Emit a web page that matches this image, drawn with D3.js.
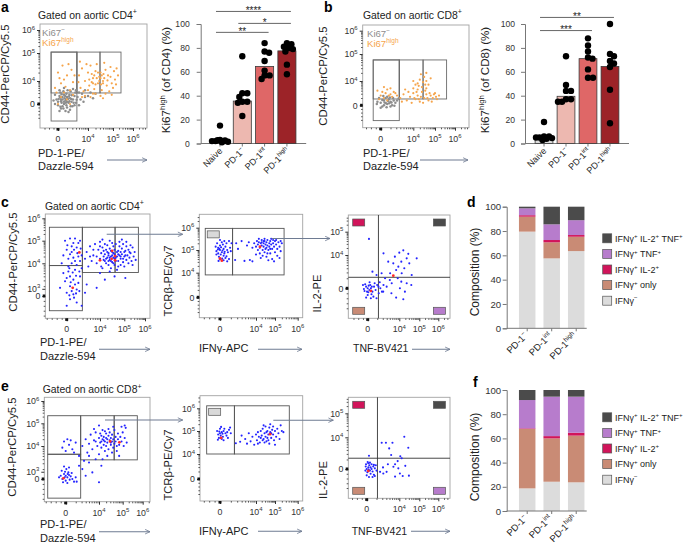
<!DOCTYPE html>
<html><head><meta charset="utf-8">
<script src="https://cdn.jsdelivr.net/npm/d3@7/dist/d3.min.js"></script>
<style>
html,body{margin:0;padding:0;background:#fff;}
svg text{font-family:"Liberation Sans",Arial,sans-serif;}
</style></head>
<body>
<svg id="fig" width="684" height="548" xmlns="http://www.w3.org/2000/svg"></svg>
<script>
// ================= DATA =================
const ki67Groups = ["Naive", "PD-1^−", "PD-1^int", "PD-1^high"];
const cd4Ki67Mean = [2.5, 35.5, 64.5, 77.5];
const cd4Ki67Dots = [[15, 3, 2.5, 2, 2, 1.5, 1, 2.8], [73, 42, 42, 39, 35, 35, 34, 23], [84, 77, 76, 69, 61, 57, 57, 54], [84, 83, 81, 80, 79, 77, 66, 58]];
const cd8Ki67Mean = [4, 39.5, 71, 64.5];
const cd8Ki67Dots = [[18, 6, 6, 5, 5, 4.5, 4, 3], [73, 49, 44, 44, 37, 37, 35, 35], [88, 82, 77, 72, 71, 62, 55, 55], [100, 75, 73, 69, 67, 64, 45, 17]];
const cd4Brackets = [{a: 0, b: 3, level: 110.5, text: "****"}, {a: 1, b: 3, level: 100.5, text: "*"}, {a: 0, b: 2, level: 93, text: "**"}];
const cd8Brackets = [{a: 0, b: 3, level: 105.5, text: "**"}, {a: 0, b: 2, level: 94.5, text: "***"}];
const pctTicks = [0, 20, 40, 60, 80, 100];

const compGroups = ["PD-1^−", "PD-1^int", "PD-1^high"];
const compKeys = ["IFNγ^−", "IFNγ^+ only", "IFNγ^+ IL-2^+", "IFNγ^+ TNF^+", "IFNγ^+ IL-2^+ TNF^+"];
const cd4IFNgNeg = [79.5, 57.5, 63.5];
const cd4IFNgOnly = [12.3, 13.2, 11.8];
const cd4IL2 = [1.2, 1.9, 1.4];
const cd4TNF = [5.7, 12.9, 12.2];
const cd4Triple = [1.3, 14.5, 11.1];
const cd8IFNgNeg = [18.7, 24.2, 23.7];
const cd8IFNgOnly = [49.1, 35.8, 38.6];
const cd8IL2 = [0.5, 1.9, 2.4];
const cd8TNF = [23.4, 32.6, 29.8];
const cd8Triple = [8.3, 5.5, 5.5];

// flow axes: display units, 0 = "0", 1 = 10^4, 2 = 10^5, 3 = 10^6
const flowTickVals = [0, 1, 2, 3];
const flowTickLabels = ["0", "10^4", "10^5", "10^6"];
const flowTickVals3 = [0, 0.22, 1, 2, 3];
const flowTickLabels3 = ["0", "10^3", "10^4", "10^5", "10^6"];
const cytoTickVals = [0, 1, 2];
const cytoTickLabels = ["0", "10^4", "10^5"];

const aKi67Neg = [[0.0,0.1],[0.1,0.2],[0.2,0.0],[0.3,0.3],[0.15,-0.1],[0.05,0.35],[0.25,0.15],[0.35,0.05],[0.4,0.25],[-0.05,0.2],[0.1,-0.2],[0.2,0.4],[0.3,-0.15],[0.45,0.1],[0.0,-0.05],[0.12,0.05],[0.22,0.25],[0.28,0.45],[0.38,0.4],[0.5,0.2],[0.55,0.35],[0.6,0.05],[0.48,-0.1],[0.08,0.5],[-0.1,0.0],[-0.1,0.4],[0.18,0.55],[0.32,0.6],[0.42,0.55],[0.65,0.3],[0.7,0.5],[0.25,-0.3],[0.05,-0.3],[0.4,-0.25],[0.15,0.3],[0.26,0.05],[0.33,0.22],[0.02,0.22],[0.12,0.42],[0.46,0.38],[0.58,0.5],[0.75,0.2],[0.8,0.45],[0.9,0.6],[1.0,0.35],[0.2,0.7],[0.5,0.65],[-0.15,0.15],[0.36,0.33],[0.2,0.1],[0.1,0.12],[0.3,0.1],[0.24,0.35],[0.44,0.22],[0.6,0.6],[0.85,0.1],[1.1,0.5],[1.3,0.45],[0.05,0.6],[0.35,-0.35],[0.9,0.3],[1.2,0.25],[0.7,-0.05],[0.15,0.2],[0.27,0.2],[0.38,0.12],[0.07,0.28],[0.52,0.05],[0.18,-0.2],[0.42,-0.1],[0.62,0.18],[0.28,-0.05],[0.08,-0.12],[0.55,-0.05]];
const aKi67High = [[0.0,1.3],[0.15,1.55],[0.3,1.2],[0.1,0.9],[0.45,1.4],[0.25,0.75],[-0.1,0.7],[0.5,0.95],[0.35,1.6],[0.2,1.05],[0.05,1.1],[0.55,1.2],[0.4,0.6],[-0.05,0.5],[0.1,0.3],[0.3,0.2],[0.5,0.4],[0.2,0.5],[0.0,0.0],[0.4,0.0],[0.7,1.2],[0.8,1.45],[0.9,1.0],[1.0,1.3],[1.05,0.8],[1.1,1.55],[1.2,1.1],[1.25,0.65],[1.3,1.35],[1.4,0.9],[0.75,0.7],[0.85,0.55],[0.95,1.6],[1.15,1.25],[1.35,1.6],[1.45,1.15],[0.68,0.95],[1.0,0.6],[1.2,0.45],[0.9,0.35],[1.1,0.3],[1.5,1.3],[1.6,1.0],[1.7,1.4],[1.75,0.8],[1.8,1.2],[1.9,1.5],[1.95,0.9],[2.05,1.35],[2.1,1.05],[2.25,1.2],[1.55,0.6],[1.65,1.65],[1.85,0.55],[2.0,0.7],[1.62,1.25],[1.78,1.02],[1.52,0.85],[1.9,1.15],[2.15,0.85],[1.7,0.45],[1.05,1.05],[1.15,0.95],[1.25,1.2],[1.3,0.85],[1.45,1.0],[1.5,1.1],[1.55,1.2],[1.6,0.9],[1.35,1.1],[1.2,0.9],[1.4,1.3],[1.65,1.1],[1.3,0.45],[1.5,0.35],[1.6,0.25],[0.8,0.3],[1.95,0.4],[0.73,1.69],[2.18,1.45]];
const bKi67Neg = [[0.0,0.1],[0.1,0.2],[0.2,0.05],[0.3,0.15],[0.05,-0.05],[0.15,0.3],[0.25,0.25],[0.35,0.0],[-0.1,0.15],[0.4,0.2],[0.1,0.0],[0.2,0.35],[0.3,-0.05],[0.45,0.1],[-0.05,0.3],[0.12,0.12],[0.22,0.18],[0.28,0.32],[0.05,0.22],[0.38,0.3],[0.5,0.2],[0.18,-0.08],[0.0,-0.1],[0.26,0.08],[0.08,0.38],[0.42,-0.02],[-0.12,0.05],[0.33,0.12],[0.16,0.08],[0.55,0.28]];
const bKi67High = [[0.0,0.4],[0.15,0.5],[0.3,0.45],[-0.1,0.6],[0.2,0.65],[0.4,0.55],[0.1,0.3],[0.25,0.4],[0.05,0.55],[0.35,0.35],[0.45,0.5],[0.5,0.4],[-0.05,0.25],[0.2,0.2],[0.3,0.7],[0.1,0.75],[0.6,0.3],[0.7,0.45],[0.8,0.2],[0.9,0.35],[1.0,0.5],[1.1,0.25],[1.2,0.4],[1.3,0.15],[1.4,0.55],[1.5,0.3],[1.6,0.45],[1.7,0.2],[1.8,0.4],[1.9,0.3],[2.0,0.5],[2.1,0.25],[0.65,0.15],[0.85,0.55],[0.95,0.1],[1.05,0.3],[1.15,0.55],[1.25,0.25],[1.35,0.35],[1.45,0.1],[1.55,0.6],[1.65,0.3],[1.75,0.5],[1.85,0.15],[1.95,0.45],[2.05,0.35],[2.2,0.4],[1.2,0.65],[1.4,0.75],[1.6,0.7],[0.75,0.65],[1.0,0.7],[1.2,0.9],[1.3,1.05],[1.35,1.25],[1.45,0.95],[1.5,1.15],[1.55,0.85],[1.6,1.0],[1.25,0.8],[1.6,1.3],[1.7,0.85],[1.1,0.85],[1.0,1.0],[1.8,1.1]];

const cPD1Blue = [[0.0,0.1],[0.1,0.3],[0.2,0.5],[-0.1,0.7],[0.3,0.2],[0.05,0.9],[0.15,1.0],[0.25,0.8],[0.35,0.4],[-0.05,0.45],[0.2,0.05],[0.1,-0.1],[0.3,-0.2],[0.0,-0.3],[0.4,0.6],[0.1,0.6],[0.25,1.1],[-0.15,1.0],[0.05,1.2],[0.35,1.3],[0.15,1.5],[0.3,1.7],[0.0,1.6],[0.2,1.9],[0.4,2.0],[0.1,2.1],[-0.1,1.35],[0.25,0.35],[0.15,0.15],[0.05,0.75],[0.3,0.95],[0.2,1.25],[0.4,1.1],[-0.2,0.25],[0.45,0.85],[0.12,0.42],[0.28,0.62],[0.08,0.02],[0.22,-0.05],[0.38,0.15],[0.18,0.72],[0.32,1.45],[0.02,1.8],[0.42,1.65],[0.15,1.75],[0.25,2.1],[-0.05,2.0],[0.35,1.9],[0.1,1.4],[0.45,1.35],[0.22,1.6],[0.08,0.85],[0.38,0.75],[0.0,0.55],[0.28,0.08],
[0.55,1.2],[0.6,1.5],[0.7,1.75],[0.75,1.1],[0.8,1.35],[0.85,1.85],[0.9,1.0],[0.95,1.6],[1.0,1.2],[1.0,1.95],[1.05,1.45],[1.1,0.85],[1.1,1.7],[1.15,1.15],[1.2,1.4],[1.2,1.85],[1.25,1.0],[1.25,1.6],[1.3,1.25],[1.3,1.8],[1.35,0.95],[1.35,1.45],[1.4,1.15],[1.4,1.65],[1.4,2.0],[1.45,1.3],[1.45,0.85],[1.5,1.5],[1.5,1.05],[1.55,1.75],[1.55,1.25],[1.6,0.95],[1.6,1.4],[1.65,1.1],[1.65,1.85],[1.7,1.3],[1.7,0.8],[1.75,1.55],[1.75,1.1],[1.8,1.35],[1.8,1.95],[1.85,0.95],[1.85,1.2],[1.9,1.65],[1.9,1.4],[1.95,1.05],[1.95,1.85],[2.0,1.3],[2.0,0.9],[2.05,1.55],[2.1,1.15],[2.1,1.75],[2.15,1.35],[2.2,1.0],[2.2,1.6],[2.25,1.25],[2.3,1.45],[2.35,1.1],[2.4,1.7],[2.45,1.3],[2.5,1.5],[2.55,1.15],[1.05,0.9],[1.15,1.3],[1.25,1.2],[1.35,1.35],[1.45,1.1],[1.55,1.0],[1.65,1.25],[1.75,1.4],[1.85,1.5],[1.95,1.2],[2.05,1.35],[1.3,1.5],[1.5,1.35],[1.7,1.5],[1.6,1.2],[1.4,1.25],[1.2,1.1],[0.65,0.9],[0.9,1.3],[1.0,1.75],[1.8,1.75],[2.3,1.8],[2.1,1.95],[1.5,1.9],[0.8,1.6],[1.1,2.05],[1.9,2.05],[2.4,0.95],[0.7,1.3],[1.6,1.6],[2.0,1.5],[1.15,1.55],[1.35,1.1],[1.85,1.3],[2.25,1.5],[1.45,1.55],[1.55,1.45],[1.75,0.9],
[0.9,0.25],[2.05,0.55],[1.2,0.5],[1.6,0.6],[0.6,0.35],[1.0,0.7],[0.55,0.1],[1.4,0.75],[0.45,-0.3]];
const cPD1Red = [[0.38,1.48],[1.0,1.13],[1.48,1.2],[1.62,1.32],[1.62,1.13],[0.18,0.25],[1.5,1.55]];
const cIFNgBlue = [[0.0,2.0],[-0.05,2.1],[0.05,1.9],[0.1,2.05],[-0.1,1.95],[0.0,2.2],[0.08,2.25],[-0.08,2.3],[0.15,2.15],[0.02,1.8],[-0.03,1.7],[0.12,1.85],[0.2,2.0],[-0.12,2.15],[0.05,2.35],[0.18,2.3],[0.0,1.6],[0.1,1.55],[0.25,1.6],[0.2,1.5],[-0.05,1.85],[0.07,1.98],[-0.02,2.05],[0.13,1.92],[0.03,2.12],[-0.06,2.02],[0.1,1.75],[-0.1,1.8],[0.22,1.9],[0.15,1.65],[0.28,2.1],[0.25,2.4],[-0.04,1.52],[0.06,1.62],[0.18,1.72],[0.0,2.45],[0.3,1.95],[0.12,2.4],[0.32,2.3],
[0.45,2.3],[0.5,2.05],[0.42,1.56],[0.68,1.52],[0.83,1.56],[0.6,2.4],[0.75,2.2],[0.8,2.35],[0.9,2.1],[0.95,2.3],[1.0,2.15],[1.05,2.4],[1.1,2.0],[1.1,2.25],[1.15,2.35],[1.2,2.1],[1.2,1.85],[1.25,2.3],[1.3,2.2],[1.3,2.45],[1.35,2.0],[1.4,2.3],[1.4,2.15],[1.45,1.9],[1.45,2.4],[1.5,2.25],[1.5,2.05],[1.55,2.35],[1.55,1.7],[1.6,2.2],[1.6,2.45],[1.65,2.0],[1.7,2.3],[1.7,2.15],[1.75,1.85],[1.75,2.4],[1.8,2.25],[1.85,2.05],[1.85,1.6],[1.9,2.3],[1.95,2.15],[2.0,2.4],[2.0,1.9],[2.05,2.25],[2.1,2.05],[2.1,1.75],[2.15,2.35],[2.2,2.15],[2.25,1.95],[2.3,2.3],[1.25,1.65],[1.35,1.75],[1.65,1.55],[1.95,1.5],[2.2,1.65],[1.0,1.8],[0.9,1.5],[1.15,2.5],[1.45,2.5],[1.8,2.5],[2.05,2.45],[1.3,2.35],[1.55,2.1],[1.75,2.05],[1.9,2.45],[1.6,1.85],[1.4,2.4],[2.25,2.4]];
const cIFNgRed = [[0.0,1.63],[0.05,1.53],[1.21,2.15]];
const cCytoBlue = [[0.0,0.0],[0.05,-0.05],[-0.05,0.05],[0.1,0.0],[0.02,-0.12],[-0.1,-0.08],[0.08,0.1],[0.15,-0.1],[-0.08,0.12],[0.2,0.05],[0.0,-0.2],[0.12,-0.18],[-0.12,-0.02],[0.25,-0.05],[0.06,0.18],[0.3,0.1],[0.18,-0.25],[-0.05,-0.28],[0.35,-0.15],[0.22,0.15],[0.4,0.0],[0.45,-0.1],[0.1,-0.3],[-0.15,0.1],[0.28,-0.3],[0.03,0.08],[0.13,0.05],[-0.02,-0.1],[0.5,0.1],[0.38,0.18],
[0.04,1.69],[0.5,1.07],[0.86,0.95],[0.81,0.75],[1.2,1.2],[1.37,0.9],[1.87,0.9],[0.97,0.65],[1.12,0.45],[1.62,0.4],[0.71,0.45],[0.44,0.45],[0.28,0.4],[0.15,0.5],[1.37,0.15],[1.03,0.0],[1.28,-0.1],[1.2,-0.33],[0.9,-0.28],[0.6,0.05],[0.76,0.15],[0.49,-0.1],[0.34,0.05],[1.0,1.1],[1.1,0.8],[0.9,0.55],[1.25,0.6],[1.5,0.75],[0.65,0.8],[1.45,1.05],[0.75,-0.15],[1.1,0.2],[0.95,0.3],[0.55,0.3],[1.6,0.1],[0.7,0.25]];
const cCytoRed = [[0.1,-0.08],[0.81,0.38]];

const ePD1Blue = [[0.0,0.1],[-0.05,0.15],[0.05,0.05],[-0.1,0.0],[0.1,0.12],[0.0,-0.05],[-0.15,0.1],[0.08,0.2],[-0.02,0.22],[0.12,-0.02],[-0.08,-0.1],[0.15,0.08],[0.02,0.3],[-0.12,0.25],[0.18,0.18],[0.05,-0.12],[-0.2,0.05],[0.1,0.35],[0.2,0.0],[-0.05,0.38],[0.25,-0.08],[0.3,0.05],[0.06,0.15],[-0.03,0.05],
[-0.05,1.2],[0.1,1.05],[0.2,0.9],[0.0,0.85],[0.3,1.15],[0.15,1.25],[-0.1,0.95],[0.25,0.8],[0.05,1.3],
[0.33,-0.08],[0.5,0.3],[0.7,0.5],[0.9,0.6],[0.6,0.1],[0.8,0.2],[1.1,0.4],[0.4,0.4],[1.0,-0.1],
[0.4,0.7],[0.5,1.0],[0.6,1.3],[0.65,0.8],[0.7,1.1],[0.75,1.5],[0.8,0.9],[0.85,1.25],[0.9,1.6],[0.95,1.0],[1.0,1.35],[1.0,0.75],[1.05,1.15],[1.1,1.45],[1.1,0.95],[1.15,1.3],[1.15,1.7],[1.2,1.05],[1.2,1.4],[1.25,0.85],[1.25,1.2],[1.3,1.55],[1.3,1.0],[1.35,1.3],[1.35,1.15],[1.4,1.45],[1.4,0.9],[1.45,1.25],[1.45,1.6],[1.5,1.05],[1.5,1.35],[1.55,1.2],[1.55,1.5],[1.6,0.95],[1.6,1.3],[1.65,1.1],[1.65,1.7],[1.7,1.4],[1.7,1.2],[1.75,0.85],[1.8,1.3],[1.8,1.55],[1.85,1.05],[1.9,1.4],[1.95,1.2],[2.0,1.6],[2.05,1.0],[2.1,1.35],[2.15,1.8],[2.2,1.15],[1.05,1.55],[1.25,1.65],[1.4,1.75],[1.55,0.8],[1.75,1.0],[0.9,1.2],[1.1,1.2],[1.3,1.35],[1.5,1.15],[1.2,1.25],[0.55,0.55],[0.7,0.7],[1.95,1.85],[2.1,1.9],[1.6,1.85],[0.85,1.75],[1.0,1.9],[1.35,0.7],[1.15,0.6],[1.85,0.7]];
const ePD1Red = [[-0.07,0.02],[1.47,1.2],[1.86,1.16]];
const eIFNgBlue = [[0.0,1.9],[0.05,1.95],[-0.05,1.85],[0.1,2.0],[0.02,1.8],[-0.08,2.0],[0.15,1.9],[0.0,2.1],[0.08,1.75],[-0.03,1.7],[0.12,2.1],[0.2,1.95],[0.05,1.65],[-0.06,1.62],[0.25,2.05],[0.18,1.8],[0.3,1.9],[0.03,2.18],[0.1,1.6],[-0.02,1.98],[0.07,1.88],[0.28,2.15],[0.22,1.7],
[0.44,1.47],[0.56,1.53],[0.6,1.8],[0.7,1.65],[0.8,1.9],[0.85,1.55],[0.9,1.75],[1.0,1.85],[1.05,1.6],[1.1,1.95],[1.15,1.75],[1.2,1.5],[1.25,2.0],[1.3,1.8],[1.35,2.1],[1.4,1.65],[1.45,1.9],[1.5,2.2],[1.5,1.75],[1.55,1.55],[1.6,2.0],[1.65,1.85],[1.7,2.15],[1.7,1.45],[1.75,1.95],[1.8,1.7],[1.85,2.05],[1.9,1.85],[1.95,1.6],[2.0,2.0],[2.05,1.75],[2.1,2.1],[2.15,1.9],[2.2,1.65],[2.3,2.0],[2.37,1.95],[1.35,1.6],[1.6,1.7],[1.75,2.3],[1.9,2.2],[1.4,2.25],[1.1,1.45],[0.95,1.4],[1.25,1.7],[1.55,1.95],[1.8,1.9],[2.0,1.4],[1.45,1.5],[1.65,1.6],[0.75,1.45],[2.25,2.25]];
const eIFNgRed = [[1.74,1.86],[0.03,1.7]];
const eCytoBlue = [[0.0,0.0],[0.05,0.05],[0.1,-0.05],[0.02,-0.1],[0.08,0.12],[-0.03,0.08],[0.15,0.0],[0.12,-0.15],[0.0,-0.2],[0.2,0.08],[0.05,0.18],[0.18,-0.08],[-0.04,-0.05],[0.25,0.02],[0.1,0.2],[0.07,-0.25],[0.22,-0.18],[0.28,0.12],[0.03,0.22],[0.15,0.15],[0.3,-0.05],[-0.02,0.15],[0.12,0.05],[0.06,-0.02],[0.18,-0.25],[0.25,-0.22],
[0.07,0.42],[0.46,0.83],[0.59,0.83],[0.69,0.65],[0.79,0.83],[0.75,0.44],[1.25,1.02],[1.45,0.67],[1.12,0.34],[0.87,0.15],[0.82,0.07],[0.97,0.02],[1.03,-0.14],[1.17,-0.22],[1.48,-0.21],[0.61,-0.09],[0.41,-0.09],[0.51,-0.14],[0.22,0.13],[0.87,-0.24],[0.95,0.25],[1.05,0.4],[0.5,0.05],[0.65,0.15],[1.3,0.1]];
const eCytoRed = [[0.05,-0.06]];

// gates (display units: [xLow, yLow, xHigh, yHigh])
const gatesA = [[-0.23,-0.74,0.63,2.04],[-0.23,0.48,0.63,2.04],[0.63,0.48,1.48,2.04],[1.48,0.48,2.4,2.04]];
const gatesB = [[-0.23,-0.63,0.57,1.78],[-0.23,0.26,0.57,1.78],[0.57,0.26,1.45,1.78],[1.45,0.26,2.58,1.78]];
const gatesC1 = [[-0.52,-0.45,0.47,0.93],[-0.52,0.93,0.47,2.6],[0.47,0.72,1.62,2.6],[1.62,0.72,2.68,2.6]];
const gatesC2 = [[-0.41,0.91,0.35,2.97],[0.35,0.91,2.4,2.97]];
const quadC3 = [0.34, 0.33];
const gatesE1 = [[-0.54,-0.58,0.45,0.75],[-0.54,0.75,0.45,2.34],[0.45,0.58,1.64,2.34],[1.64,0.58,2.73,2.34]];
const gatesE2 = [[-0.37,1.0,0.4,3.11],[0.4,1.0,2.63,3.11]];
const quadE3 = [0.33, 0.34];

// ================= STYLE =================
const ki67Colors = ["#dcdcdc", "#edb8b0", "#df6767", "#9c2328"];
const compColors = ["#dcdcdc", "#c98b75", "#d1145a", "#b77ccc", "#4b4b4b"];
const BLUE = "#2424ff", RED = "#ff2a2a", GREY = "#8d8d8d", ORANGE = "#f6a54c";
const ARROW = "#6e7b92";

// ================= DRAW =================
const svg = d3.select("#fig");
svg.append("rect").attr("width", 684).attr("height", 548).attr("fill", "#fff");
const defs = svg.append("defs");
defs.append("marker").attr("id", "arr").attr("viewBox", "0 0 8 8").attr("refX", 7).attr("refY", 4)
  .attr("markerWidth", 6).attr("markerHeight", 6).attr("orient", "auto").attr("markerUnits", "userSpaceOnUse")
  .append("path").attr("d", "M0.5,1 L7,4 L0.5,7").attr("fill", "none").attr("stroke", ARROW).attr("stroke-width", 1.1);

function rich(sel, str, size) {
  const parts = str.split(/\^(\S+)/);
  let up = false;
  parts.forEach((p, i) => {
    if (p === "") return;
    const isSup = i % 2 === 1;
    const t = sel.append("tspan").text(p);
    if (isSup) {
      t.attr("font-size", size * 0.68);
      if (!up) { t.attr("dy", -size * 0.4); up = true; }
    } else if (up) { t.attr("dy", size * 0.4); up = false; }
  });
}
function txt(g, x, y, str, o = {}) {
  const size = o.size || 10;
  const t = g.append("text").attr("x", x).attr("y", y).attr("font-size", size)
    .attr("fill", o.fill || "#222").attr("text-anchor", o.anchor || "start")
    .attr("xml:space", "preserve");
  if (o.weight) t.attr("font-weight", o.weight);
  if (o.rotate) t.attr("transform", `rotate(${o.rotate},${x},${y})`);
  rich(t, str, size);
  return t;
}
function arrow(g, x1, y1, x2, y2) {
  g.append("line").attr("x1", x1).attr("y1", y1).attr("x2", x2).attr("y2", y2)
    .attr("stroke", ARROW).attr("stroke-width", 1.1).attr("marker-end", "url(#arr)");
}

function flowPlot(c) {
  const g = svg.append("g");
  const [x0, y0, x1, y1] = c.frame;
  const x = d3.scaleLinear().domain(c.xDom).range(c.xPx);
  const y = d3.scaleLinear().domain(c.yDom).range(c.yPx);
  g.append("rect").attr("x", x0).attr("y", y0).attr("width", x1 - x0).attr("height", y1 - y0)
    .attr("fill", "none").attr("stroke", "#a3a3a3").attr("stroke-width", 0.9);
  const minors = [];
  for (let n = 0; n < 4; n++) for (let m = 2; m < 10; m++) minors.push(n + Math.log10(m));
  [-0.15, -0.3, -0.45, -0.6].forEach(v => minors.push(v));
  const inX = minors.filter(v => x(v) > x0 + 1 && x(v) < x1 - 1);
  const inY = minors.filter(v => y(v) < y1 - 1 && y(v) > y0 + 1);
  const ax = g.append("g").attr("transform", `translate(0,${y1})`).attr("color", "#555");
  ax.call(d3.axisBottom(x).tickValues(inX).tickSize(1.6).tickFormat("")).call(s => s.select(".domain").remove());
  const ax2 = g.append("g").attr("transform", `translate(0,${y1})`).attr("color", "#333");
  ax2.call(d3.axisBottom(x).tickValues(c.xTickVals).tickSize(3).tickFormat("")).call(s => s.select(".domain").remove());
  const ay = g.append("g").attr("transform", `translate(${x0},0)`).attr("color", "#555");
  ay.call(d3.axisLeft(y).tickValues(inY).tickSize(1.6).tickFormat("")).call(s => s.select(".domain").remove());
  const ay2 = g.append("g").attr("transform", `translate(${x0},0)`).attr("color", "#333");
  ay2.call(d3.axisLeft(y).tickValues(c.yTickVals).tickSize(3).tickFormat("")).call(s => s.select(".domain").remove());
  c.xTickVals.forEach((v, i) => txt(g, x(v), y1 + 14, c.xTickLabels[i], {size: 8.8, anchor: "middle", fill: "#333"}));
  c.yTickVals.forEach((v, i) => txt(g, x0 - 5, y(v) + 3.2, c.yTickLabels[i], {size: 8.8, anchor: "end", fill: "#333"}));
  g.append("rect").attr("x", x(0) - 1.5).attr("y", y1).attr("width", 3).attr("height", 2.6).attr("fill", "#111");
  g.append("rect").attr("x", x0 - 2.6).attr("y", y(0) - 1.5).attr("width", 2.6).attr("height", 3).attr("fill", "#111");
  (c.gates || []).forEach(r => g.append("rect").attr("x", x(r[0])).attr("y", y(r[3]))
    .attr("width", x(r[2]) - x(r[0])).attr("height", y(r[1]) - y(r[3]))
    .attr("fill", "none").attr("stroke", c.gateColor || "#555").attr("stroke-width", 0.9));
  if (c.quad) {
    g.append("line").attr("x1", x(c.quad[0])).attr("x2", x(c.quad[0])).attr("y1", y0).attr("y2", y1).attr("stroke", "#333").attr("stroke-width", 0.9);
    g.append("line").attr("x1", x0).attr("x2", x1).attr("y1", y(c.quad[1])).attr("y2", y(c.quad[1])).attr("stroke", "#333").attr("stroke-width", 0.9);
    const sw = [[x0 + 4.4, y0 + 4, compColors[2]], [x1 - 16.6, y0 + 4, compColors[4]], [x0 + 4.4, y1 - 11, compColors[1]], [x1 - 16.6, y1 - 11, compColors[3]]];
    sw.forEach(s => g.append("rect").attr("x", s[0]).attr("y", s[1]).attr("width", 12).attr("height", 7)
      .attr("fill", s[2]).attr("stroke", "#555").attr("stroke-width", 0.7));
  }
  if (c.gateLegend) {
    const r = c.gates[0];
    g.append("rect").attr("x", x(r[0]) + 2).attr("y", y(r[3]) + 2.5).attr("width", 12).attr("height", 7)
      .attr("fill", "#d9d9d9").attr("stroke", "#555").attr("stroke-width", 0.7);
  }
  c.series.forEach(s => g.append("g").selectAll("circle").data(s.pts).join("circle")
    .attr("cx", d => x(d[0])).attr("cy", d => y(d[1])).attr("r", s.r || 1.05).attr("fill", s.color));
  return g;
}

function swarm(vals, y, r, maxDx) {
  const placed = [];
  return vals.map(v => {
    const cy = y(v);
    let best = 0, bestScore = -1;
    const cands = [0];
    for (let d = 0.5; d <= maxDx; d += 0.5) cands.push(d, -d);
    for (const dx of cands) {
      let md = Infinity;
      for (const p of placed) md = Math.min(md, Math.hypot(dx - p.dx, cy - p.cy));
      if (md >= 2 * r * 0.72) { best = dx; break; }
      if (md > bestScore) { bestScore = md; best = dx; }
    }
    placed.push({dx: best, cy});
    return {v, dx: best, cy};
  });
}

function ki67Panel(c) {
  const g = svg.append("g");
  const y = d3.scaleLinear().domain([0, 100]).range([c.y0, c.y100]);
  const x = d3.scaleBand().domain(ki67Groups).range([c.ax, c.ax2]).paddingInner(0.19).paddingOuter(0.46);
  const ya = g.append("g").attr("transform", `translate(${c.ax},0)`).attr("color", "#777")
    .call(d3.axisLeft(y).tickValues(pctTicks).tickSize(4).tickPadding(c.pad));
  ya.selectAll("text").attr("font-size", 8.6).attr("fill", "#333");
  g.append("line").attr("x1", c.ax).attr("x2", c.ax2).attr("y1", c.y0).attr("y2", c.y0).attr("stroke", "#777");
  const xa = g.append("g").attr("transform", `translate(0,${c.y0})`).attr("color", "#777")
    .call(d3.axisBottom(x).tickSize(3).tickFormat(""));
  xa.select(".domain").remove();
  g.selectAll("rect.bar").data(c.means).join("rect").attr("class", "bar")
    .attr("x", (d, i) => x(ki67Groups[i])).attr("y", d => y(d)).attr("width", x.bandwidth())
    .attr("height", d => c.y0 - y(d)).attr("fill", (d, i) => ki67Colors[i]).attr("stroke", "#3a3a3a").attr("stroke-width", 0.8);
  c.dots.forEach((vals, i) => {
    const cx = x(ki67Groups[i]) + x.bandwidth() / 2;
    g.append("g").selectAll("circle").data(swarm(vals, y, 3.2, 8)).join("circle")
      .attr("cx", d => cx + d.dx).attr("cy", d => d.cy).attr("r", 3.2).attr("fill", "#000");
  });
  ki67Groups.forEach((grp, i) => {
    const cx = x(grp) + x.bandwidth() / 2 + 3;
    txt(g, cx, c.y0 + 8, grp, {size: 9, anchor: "end", rotate: -45, fill: "#222"});
  });
  c.brackets.forEach(b => {
    const xa1 = x(ki67Groups[b.a]) + x.bandwidth() / 2 - 4;
    const xb1 = x(ki67Groups[b.b]) + x.bandwidth() / 2 + 4;
    const ly = y(b.level);
    g.append("line").attr("x1", xa1).attr("x2", xb1).attr("y1", ly).attr("y2", ly).attr("stroke", "#555").attr("stroke-width", 0.9);
    txt(g, (xa1 + xb1) / 2, ly + 2.2, b.text, {size: 10, anchor: "middle", fill: "#222"});
  });
  txt(g, c.labelX + 4.1, c.labelY, c.label, {size: 11.6, anchor: "middle", rotate: -90});
}

function compPanel(c) {
  const g = svg.append("g");
  const y = d3.scaleLinear().domain([0, 100]).range([c.y0, c.y100]);
  const x = d3.scaleBand().domain(compGroups).range([c.ax, c.ax + 90]).paddingInner(0.327).paddingOuter(0.5);
  const rows = compGroups.map((grp, i) => { const o = {grp}; compKeys.forEach((k, j) => o[k] = c.series[j][i]); return o; });
  const layers = d3.stack().keys(compKeys)(rows);
  layers.forEach((layer, j) => g.append("g").selectAll("rect").data(layer).join("rect")
    .attr("x", d => x(d.data.grp)).attr("y", d => y(d[1])).attr("width", x.bandwidth())
    .attr("height", d => y(d[0]) - y(d[1])).attr("fill", compColors[j]));
  const ya = g.append("g").attr("transform", `translate(${c.ax},0)`).attr("color", "#777")
    .call(d3.axisLeft(y).tickValues(pctTicks).tickSize(4).tickPadding(1.5));
  ya.selectAll("text").attr("font-size", 9.6).attr("fill", "#333");
  g.append("line").attr("x1", c.ax).attr("x2", c.ax + 80).attr("y1", c.y0).attr("y2", c.y0).attr("stroke", "#777");
  const xa = g.append("g").attr("transform", `translate(0,${c.y0})`).attr("color", "#777")
    .call(d3.axisBottom(x).tickSize(3).tickFormat(""));
  xa.select(".domain").remove();
  compGroups.forEach(grp => {
    const cx = x(grp) + x.bandwidth() / 2 + 1;
    txt(g, cx, c.y0 + 8, grp, {size: 9.4, anchor: "end", rotate: -45});
  });
  txt(g, 479, c.labelY, "Composition (%)", {size: 12, anchor: "middle", rotate: -90});
  compKeys.slice().reverse().forEach((k, i) => {
    const j = compKeys.length - 1 - i;
    const cy = c.legTop + i * 15.6;
    g.append("rect").attr("x", 602.7).attr("y", cy - 4.5).attr("width", 9).attr("height", 9)
      .attr("fill", compColors[j]).attr("stroke", "#555").attr("stroke-width", 0.7);
    txt(g, 615, cy + 3.3, k, {size: 9});
  });
}

// ---------- panel letters ----------
const L = svg.append("g");
[["a", 1, 12], ["b", 324, 12], ["c", 1, 206.5], ["d", 467, 206.5], ["e", 1, 390.5], ["f", 473, 386.5]]
  .forEach(p => txt(L, p[1], p[2], p[0], {size: 14, weight: "bold", fill: "#000"}));

// ---------- panel a ----------
txt(svg, 38, 18.5, "Gated on aortic CD4^+", {size: 10.4});
flowPlot({frame: [40, 24, 147, 128], xDom: [0, 1, 2, 3], xPx: [58, 88, 113, 133], yDom: [0, 1, 2, 3], yPx: [104, 81, 53, 30],
  xTickVals: flowTickVals, xTickLabels: flowTickLabels, yTickVals: flowTickVals, yTickLabels: flowTickLabels,
  gates: gatesA, gateColor: "#6a6a6a",
  series: [{pts: aKi67Neg, color: GREY, r: 1.25}, {pts: aKi67High, color: ORANGE, r: 1.1}]});
txt(svg, 42, 35.5, "Ki67^−", {size: 9.6, fill: GREY});
txt(svg, 42, 46, "Ki67^high", {size: 9.6, fill: ORANGE});
txt(svg, 9, 74, "CD44-PerCP/Cy5.5", {size: 11.4, anchor: "middle", rotate: -90});
txt(svg, 38, 157, "PD-1-PE/", {size: 11});
txt(svg, 38, 170, "Dazzle-594", {size: 11});
arrow(svg, 107, 160, 147, 160);
ki67Panel({ax: 200.7, ax2: 306.2, y0: 143.5, y100: 24, pad: 7, means: cd4Ki67Mean, dots: cd4Ki67Dots, brackets: cd4Brackets,
  label: "Ki67^high (of CD4) (%)", labelX: 166, labelY: 80});

// ---------- panel b ----------
txt(svg, 363, 18.5, "Gated on aortic CD8^+", {size: 10.4});
flowPlot({frame: [362.7, 25, 469, 127.7], xDom: [0, 1, 2, 3], xPx: [380.7, 413.3, 435, 455], yDom: [0, 1, 2, 3], yPx: [105.3, 81, 54, 30.7],
  xTickVals: flowTickVals, xTickLabels: flowTickLabels, yTickVals: flowTickVals, yTickLabels: flowTickLabels,
  gates: gatesB, gateColor: "#6a6a6a",
  series: [{pts: bKi67Neg, color: GREY, r: 1.25}, {pts: bKi67High, color: ORANGE, r: 1.1}]});
txt(svg, 367, 36.5, "Ki67^−", {size: 9.6, fill: GREY});
txt(svg, 367, 47, "Ki67^high", {size: 9.6, fill: ORANGE});
txt(svg, 327, 76, "CD44-PerCP/Cy5.5", {size: 11.4, anchor: "middle", rotate: -90});
txt(svg, 363, 157, "PD-1-PE/", {size: 11});
txt(svg, 363, 170, "Dazzle-594", {size: 11});
arrow(svg, 420, 160, 468, 160);
ki67Panel({ax: 525, ax2: 629, y0: 143.5, y100: 24, pad: 6, means: cd8Ki67Mean, dots: cd8Ki67Dots, brackets: cd8Brackets,
  label: "Ki67^high (of CD8) (%)", labelX: 485, labelY: 80});

// ---------- panel c ----------
txt(svg, 45, 209.5, "Gated on aortic CD4^+", {size: 10.4});
flowPlot({frame: [45.3, 214, 150, 318.3], xDom: [0, 1, 2, 3], xPx: [66.7, 100, 124.3, 145], yDom: [0, 1, 2, 3], yPx: [296, 263.3, 240.7, 218.3],
  xTickVals: flowTickVals, xTickLabels: flowTickLabels, yTickVals: flowTickVals3, yTickLabels: flowTickLabels3,
  gates: gatesC1, series: [{pts: cPD1Blue, color: BLUE}, {pts: cPD1Red, color: RED, r: 1.4}]});
txt(svg, 17, 262, "CD44-PerCP/Cy5.5", {size: 11.4, anchor: "middle", rotate: -90});
txt(svg, 40, 346, "PD-1-PE/", {size: 11});
txt(svg, 40, 359.5, "Dazzle-594", {size: 11});
arrow(svg, 99, 349.3, 150, 349.3);
arrow(svg, 106.7, 234.3, 182.7, 234.3);

flowPlot({frame: [199.3, 214.3, 302.7, 317.7], xDom: [0, 1, 2, 3], xPx: [220, 256, 275, 297.7], yDom: [0, 1, 2, 3], yPx: [297.3, 272.7, 250, 227.7],
  xTickVals: flowTickVals, xTickLabels: flowTickLabels, yTickVals: flowTickVals, yTickLabels: flowTickLabels,
  gates: gatesC2, gateLegend: true, series: [{pts: cIFNgBlue, color: BLUE}, {pts: cIFNgRed, color: RED, r: 1.4}]});
txt(svg, 172, 281, "TCRβ-PE/Cy7", {size: 11.2, anchor: "middle", rotate: -90});
txt(svg, 199, 352, "IFNγ-APC", {size: 11});
arrow(svg, 258, 349.3, 302, 349.3);
arrow(svg, 271.7, 238.5, 330, 238.5);

flowPlot({frame: [348.3, 215, 450, 318.3], xDom: [0, 1, 2, 3], xPx: [367.7, 399.3, 419.3, 438.3], yDom: [0, 1, 2], yPx: [288.3, 255, 231.7],
  xTickVals: flowTickVals, xTickLabels: flowTickLabels, yTickVals: cytoTickVals, yTickLabels: cytoTickLabels,
  quad: quadC3, series: [{pts: cCytoBlue, color: BLUE}, {pts: cCytoRed, color: RED, r: 1.4}]});
txt(svg, 320.5, 293.5, "IL-2-PE", {size: 11.2, anchor: "middle", rotate: -90});
txt(svg, 353, 352, "TNF-BV421", {size: 10.5});
arrow(svg, 412, 349.3, 450, 349.3);

// ---------- panel d ----------
compPanel({ax: 506.7, y0: 328.3, y100: 206.7, labelY: 272, legTop: 238.3,
  series: [cd4IFNgNeg, cd4IFNgOnly, cd4IL2, cd4TNF, cd4Triple]});

// ---------- panel e ----------
txt(svg, 42.7, 392.8, "Gated on aortic CD8^+", {size: 10.4});
flowPlot({frame: [44.3, 397.3, 150, 501.7], xDom: [0, 1, 2, 3], xPx: [65.7, 99, 122.7, 142.7], yDom: [0, 1, 2, 3], yPx: [479, 446, 423.3, 401],
  xTickVals: flowTickVals, xTickLabels: flowTickLabels, yTickVals: flowTickVals3, yTickLabels: flowTickLabels3,
  gates: gatesE1, series: [{pts: ePD1Blue, color: BLUE}, {pts: ePD1Red, color: RED, r: 1.4}]});
txt(svg, 16, 447, "CD44-PerCP/Cy5.5", {size: 11.4, anchor: "middle", rotate: -90});
txt(svg, 40, 528, "PD-1-PE/", {size: 11});
txt(svg, 40, 541.5, "Dazzle-594", {size: 11});
arrow(svg, 99, 531.7, 150, 531.7);
arrow(svg, 105, 420, 182.7, 420);

flowPlot({frame: [200, 395.7, 302.7, 501], xDom: [0, 1, 2, 3], xPx: [220, 256, 275, 297.7], yDom: [0, 1, 2, 3], yPx: [479, 454, 431, 408.3],
  xTickVals: flowTickVals, xTickLabels: flowTickLabels, yTickVals: flowTickVals, yTickLabels: flowTickLabels,
  gates: gatesE2, gateLegend: true, series: [{pts: eIFNgBlue, color: BLUE}, {pts: eIFNgRed, color: RED, r: 1.4}]});
txt(svg, 171.5, 465, "TCRβ-PE/Cy7", {size: 11.2, anchor: "middle", rotate: -90});
txt(svg, 199, 534.5, "IFNγ-APC", {size: 11});
arrow(svg, 258, 531.3, 302, 531.3);
arrow(svg, 273.3, 420.2, 333.3, 420.2);

flowPlot({frame: [348.3, 397.3, 450, 498.3], xDom: [0, 1, 2, 3], xPx: [366.7, 399.3, 419.3, 438.3], yDom: [0, 1, 2], yPx: [469, 437.3, 413.3],
  xTickVals: flowTickVals, xTickLabels: flowTickLabels, yTickVals: cytoTickVals, yTickLabels: cytoTickLabels,
  quad: quadE3, series: [{pts: eCytoBlue, color: BLUE}, {pts: eCytoRed, color: RED, r: 1.4}]});
txt(svg, 327, 480, "IL-2-PE", {size: 11.2, anchor: "middle", rotate: -90});
txt(svg, 351.7, 534.5, "TNF-BV421", {size: 10.5});
arrow(svg, 411, 531.3, 450, 531.3);

// ---------- panel f ----------
compPanel({ax: 506.7, y0: 511, y100: 390, labelY: 457, legTop: 417.3,
  series: [cd8IFNgNeg, cd8IFNgOnly, cd8IL2, cd8TNF, cd8Triple]});
</script>
</body></html>
